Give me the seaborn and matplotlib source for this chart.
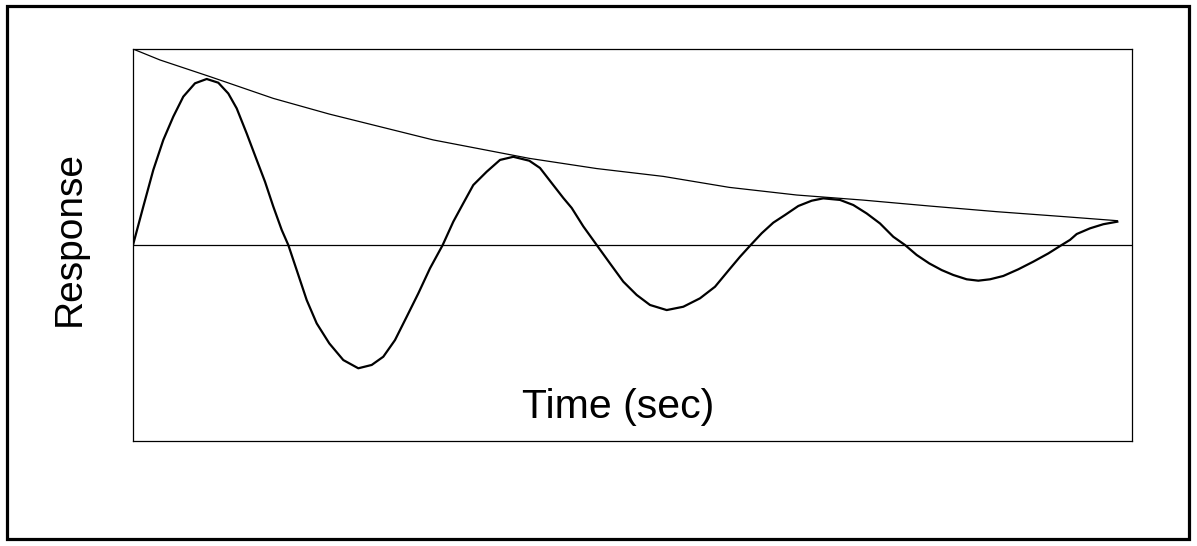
import matplotlib
matplotlib.use("Agg")
import matplotlib.pyplot as plt
import seaborn as sns
import pandas as pd
from matplotlib.patches import Rectangle

# Damped response curve (time in sec, response normalised)
resp_t = [0.000, 0.103, 0.203, 0.303, 0.403, 0.503, 0.620, 0.737, 0.853, 0.953,
          1.037, 1.137, 1.237, 1.320, 1.403, 1.487, 1.553, 1.637, 1.737, 1.837,
          1.963, 2.103, 2.253, 2.387, 2.503, 2.620, 2.737, 2.853, 2.970, 3.097,
          3.203, 3.303, 3.403, 3.537, 3.670, 3.803, 3.963, 4.070, 4.187, 4.303,
          4.387, 4.503, 4.637, 4.770, 4.903, 5.037, 5.170, 5.337, 5.503, 5.670,
          5.820, 5.963, 6.070, 6.177, 6.287, 6.403, 6.520, 6.653, 6.787, 6.903,
          7.070, 7.203, 7.337, 7.470, 7.603, 7.720, 7.837, 7.963, 8.087, 8.203,
          8.337, 8.453, 8.570, 8.703, 8.853, 9.003, 9.153, 9.287, 9.370, 9.437,
          9.570, 9.703, 9.843]
resp_y = [0.000, 0.196, 0.383, 0.536, 0.655, 0.757, 0.825, 0.847, 0.828, 0.773,
          0.697, 0.569, 0.434, 0.323, 0.196, 0.077, 0.000, -0.128, -0.281, -0.400,
          -0.502, -0.587, -0.629, -0.612, -0.570, -0.485, -0.366, -0.247, -0.119, 0.000,
          0.119, 0.213, 0.306, 0.374, 0.434, 0.450, 0.430, 0.393, 0.316, 0.240,
          0.189, 0.095, 0.000, -0.094, -0.187, -0.255, -0.306, -0.332, -0.315, -0.272,
          -0.213, -0.125, -0.060, 0.000, 0.060, 0.114, 0.153, 0.199, 0.226, 0.238,
          0.230, 0.204, 0.161, 0.110, 0.042, 0.000, -0.051, -0.094, -0.128, -0.153,
          -0.175, -0.182, -0.175, -0.158, -0.124, -0.085, -0.043, 0.000, 0.026, 0.056,
          0.085, 0.106, 0.119]

# Envelope curve
env_t = [0.000, 0.270, 0.770, 1.403, 1.963, 3.003, 3.963, 4.637, 5.303, 5.963,
         6.637, 7.303, 7.963, 8.637, 9.303, 9.843]
env_y = [1.000, 0.944, 0.859, 0.748, 0.668, 0.536, 0.442, 0.390, 0.350, 0.294,
         0.255, 0.229, 0.199, 0.170, 0.145, 0.124]

x_label = "Time (sec)"
y_label = "Response"

fig = plt.figure(figsize=(11.97, 5.46), dpi=100)
ax = fig.add_axes([133 / 1197, 1 - 441 / 546, 999 / 1197, 392 / 546])

sns.lineplot(data=pd.DataFrame({"t": resp_t, "y": resp_y}), x="t", y="y", ax=ax,
             sort=False, estimator=None, color="black", linewidth=1.6)
sns.lineplot(data=pd.DataFrame({"t": env_t, "y": env_y}), x="t", y="y", ax=ax,
             sort=False, estimator=None, color="black", linewidth=0.9)
ax.axhline(0, color="black", linewidth=0.9)

ax.set_xlim(0, 9.99)
ax.set_ylim(-1, 1)
ax.set_xticks([])
ax.set_yticks([])
ax.set_xlabel("")
ax.set_ylabel("")
for sp in ax.spines.values():
    sp.set_linewidth(0.9)
    sp.set_color("black")

ax.text(0.486, 0.088, x_label, transform=ax.transAxes, ha="center", va="center",
        fontsize=29.5, family=["Liberation Sans", "DejaVu Sans"], color="black")
fig.text(70 / 1197, 1 - 238 / 546, y_label, rotation=90, ha="center", va="center",
         fontsize=28, family=["Liberation Sans", "DejaVu Sans"], color="black")

fig.patches.append(Rectangle((6.5 / 1197, 1 - 539 / 546), (1189 - 6.5) / 1197,
                             (539 - 5.5) / 546, transform=fig.transFigure,
                             fill=False, edgecolor="black", linewidth=2.3))

fig.savefig("out.png", dpi=100, facecolor="white")
